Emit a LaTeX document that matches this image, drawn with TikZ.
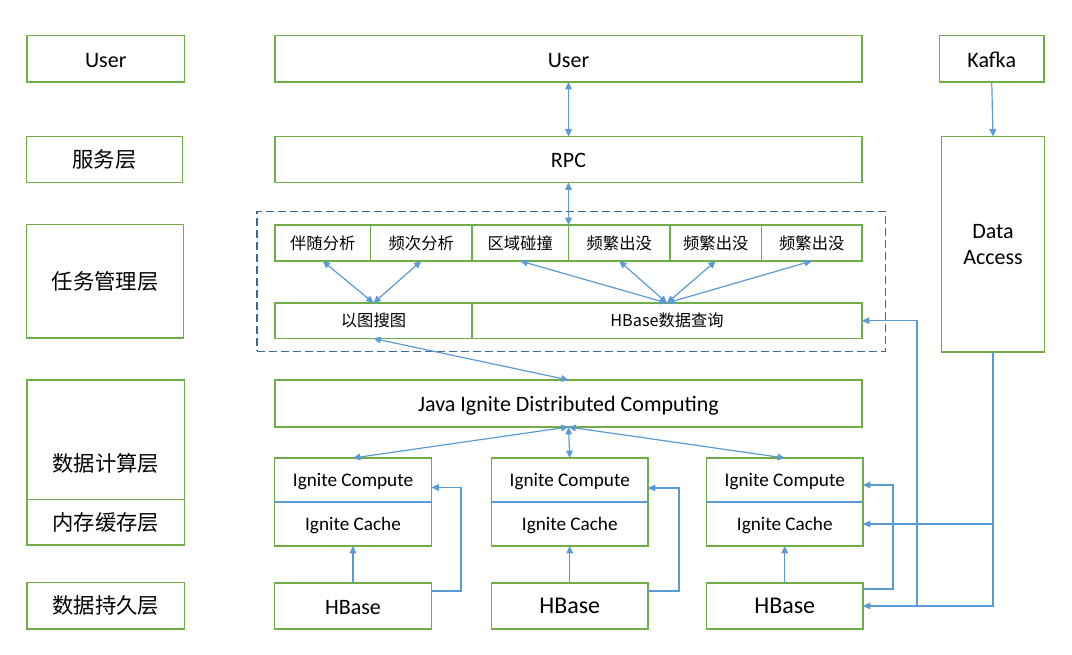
\documentclass[tikz,border=0pt]{standalone}
\usepackage{fontspec}
\setmainfont{Carlito}
\newfontfamily\cjk{Noto Sans CJK SC}
\usetikzlibrary{arrows.meta,calc}
\definecolor{gbox}{HTML}{70AD47}
\definecolor{barr}{HTML}{5B9BD5}
\definecolor{dbox}{HTML}{3A6A96}
\begin{document}
\begin{tikzpicture}[x=0.75pt,y=-0.75pt,
  box/.style={draw=gbox,line width=1.1pt,inner sep=0pt,outer sep=0pt,fill=white,align=center},
  sz/.style 2 args={minimum width=#1*0.75pt,minimum height=#2*0.75pt},
  arr/.style={draw=barr,line width=0.9pt,-{Triangle[length=5.5pt,width=5pt]}},
  darr/.style={draw=barr,line width=0.9pt,{Triangle[length=5.5pt,width=5pt]}-{Triangle[length=5.5pt,width=5pt]}},
  lat/.style={font=\fontsize{16.5}{19.5}\selectfont,text height=12.4pt,text depth=0pt},
  lat2/.style={font=\fontsize{16.5}{19.5}\selectfont},
  latm/.style={font=\fontsize{14.4}{17}\selectfont,text height=9.3pt,text depth=0pt},
  latb/.style={font=\fontsize{18}{21}\selectfont,text height=11.6pt,text depth=0pt},
  zhl/.style={font=\cjk\fontsize{16}{19}\selectfont},
  zhs/.style={font=\cjk\fontsize{12.2}{15}\selectfont},
  grpbox/.style={draw=dbox,line width=0.9pt,dash pattern=on 6pt off 3pt,inner sep=0pt,outer sep=0pt}
]
\useasboundingbox[fill=white] (0,0) rectangle (1072,655);

% left column
\node[box,sz={157.5}{46.5},lat] (lUser) at (105.75,58.75) {User};
\node[box,sz={156}{46},zhl] (lsvc) at (104.5,159.5) {服务层};
\node[box,sz={157}{113.5},zhl] (ltask) at (105,281.25) {任务管理层};
\node[box,sz={157.5}{119.5}] (lcomp) at (105.75,439.75) {};
\node[zhl] (lcompt) at (105.75,463) {数据计算层};
\node[box,sz={157.5}{45.5},zhl] (lcache) at (105.75,522.25) {内存缓存层};
\node[box,sz={157.5}{46.5},zhl] (lpers) at (105.75,605.75) {数据持久层};

% main column
\node[box,sz={587}{46.5},lat] (mUser) at (568.5,58.75) {User};
\node[box,sz={587}{46},lat] (rpc) at (568.5,159.5) {RPC};
\node[grpbox,sz={628.5}{140}] (grp) at (571.25,281.5) {};

\node[box,sz={95.5}{36},zhs] (t1) at (322.75,243) {伴随分析};
\node[box,sz={101.5}{36},zhs] (t2) at (421.25,243) {频次分析};
\node[box,sz={96.5}{36},zhs] (t3) at (520.25,243) {区域碰撞};
\node[box,sz={101.5}{36},zhs] (t4) at (619.25,243) {频繁出没};
\node[box,sz={91.5}{36},zhs] (t5) at (715.75,243) {频繁出没};
\node[box,sz={100.5}{36},zhs] (t6) at (811.75,243) {频繁出没};

\node[box,sz={197}{35.5},zhs] (s1) at (373.5,320.75) {以图搜图};
\node[box,sz={390}{35.5},zhs] (s2) at (667,320.75) {HBase数据查询};

\node[box,sz={587}{47},lat] (java) at (568.5,403.5) {Java Ignite Distributed Computing};

\node[box,sz={157}{44},latm] (c1) at (353,480) {Ignite Compute};
\node[box,sz={157}{44},latm] (k1) at (353,524) {Ignite Cache};
\node[box,sz={157}{46},lat] (h1) at (353,606) {HBase};
\node[box,sz={156.5}{44},latm] (c2) at (569.75,480) {Ignite Compute};
\node[box,sz={156.5}{44},latm] (k2) at (569.75,524) {Ignite Cache};
\node[box,sz={156.5}{46},latb] (h2) at (569.75,606) {HBase};
\node[box,sz={156.5}{44},latm] (c3) at (784.75,480) {Ignite Compute};
\node[box,sz={156.5}{44},latm] (k3) at (784.75,524) {Ignite Cache};
\node[box,sz={156.5}{46},latb] (h3) at (784.75,606) {HBase};
\foreach \n in {c1,c2,c3}{
  \draw[barr,line width=0.9pt] ([xshift=0.6pt]\n.south west) -- ([xshift=-0.6pt]\n.south east);
}

% right column
\node[box,sz={104.5}{46.5},lat] (kafka) at (991.75,58.75) {Kafka};
\node[box,sz={103}{215.5},lat2] (da) at (993,244.25) {Data\\Access};

% connectors
\draw[darr] (mUser.south) -- (rpc.north);
\draw[darr] (rpc.south) -- (rpc.south |- t4.north);
\draw[darr] (t1.south) -- (s1.north);
\draw[darr] (t2.south) -- (s1.north);
\draw[darr] (t3.south) -- (s2.north);
\draw[darr] (t4.south) -- (s2.north);
\draw[darr] (t5.south) -- (s2.north);
\draw[darr] (t6.south) -- (s2.north);
\draw[darr] (s1.south) -- (java.north);
\draw[darr] (java.south) -- (c1.north);
\draw[darr] (java.south) -- (c2.north);
\draw[darr] (java.south) -- (c3.north);
\draw[arr] (h1.north) -- (k1.south);
\draw[arr] (h2.north) -- (k2.south);
\draw[arr] (h3.north) -- (k3.south);
\draw[arr] ($(h1.north east)+(0,8)$) -- ++(29.5,0) |- ($(c1.east)+(0,7.5)$);
\draw[arr] ($(h2.north east)+(0,8)$) -- ++(31,0) |- ($(c2.east)+(0,8)$);
\draw[arr] ($(h3.north east)+(0,6)$) -- ++(30,0) |- ($(c3.east)+(0,5)$);
\draw[arr] (kafka.south) -- (da.north);
\draw[arr] (da.south) |- (h3.east);
\draw[arr] (da.south |- k3.east) -- (k3.east);
\coordinate (j1) at (917,606);
\draw[arr] (j1) |- (s2.east);
\end{tikzpicture}
\end{document}
